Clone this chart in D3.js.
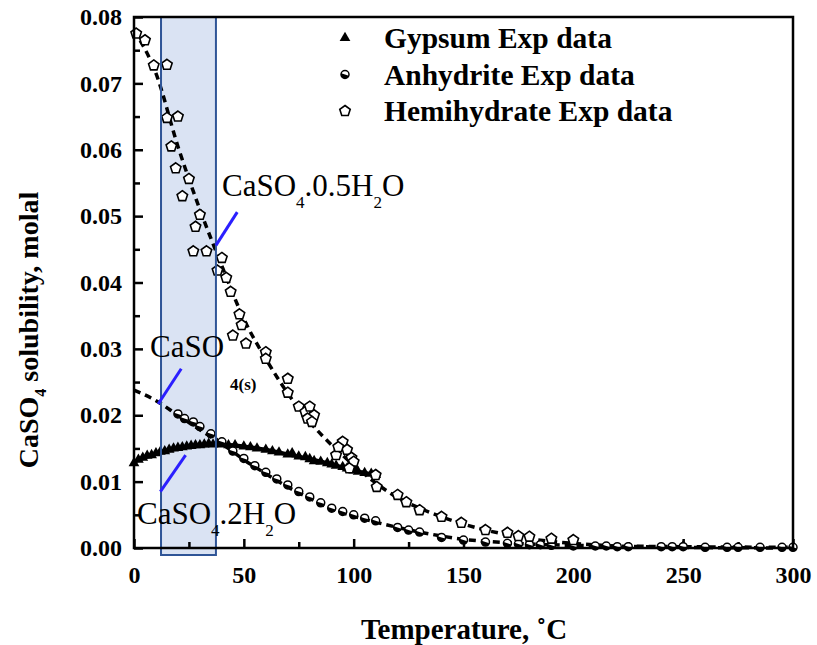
<!DOCTYPE html>
<html>
<head>
<meta charset="utf-8">
<script src="https://cdn.jsdelivr.net/npm/d3@7"></script>
<style>
  body { margin: 0; background: #fff; }
  text { font-family: "Liberation Serif", "DejaVu Serif", serif; }
</style>
</head>
<body>
<div id="chart"></div>
<script>
// curve fits [T, molal]
const hemiCurve = [[0,0.0780],[10,0.0715],[20,0.0605],[30,0.0510],[40,0.0425],[50,0.0345],[60,0.0285],[70,0.0233],[80,0.0190],[90,0.0155],[100,0.0125],[110,0.0098],[120,0.0076],[130,0.0060],[140,0.0047],[150,0.0036],[160,0.0027],[170,0.0020],[180,0.0014],[190,0.0010],[200,0.0007],[220,0.0003],[250,0.0001],[300,0.0000]]
const anhyCurve = [[0,0.0238],[10,0.0222],[20,0.0200],[30,0.0178],[40,0.0157],[50,0.0133],[60,0.0112],[70,0.0092],[80,0.0075],[90,0.0059],[100,0.0048],[110,0.0039],[120,0.0031],[130,0.0024],[140,0.0018],[150,0.0013],[160,0.0010],[170,0.0008],[180,0.0006],[200,0.0004],[250,0.0002],[300,0.0001]]
const gypCurve = [[0,0.0130],[10,0.0142],[20,0.0150],[30,0.0154],[40,0.0156],[50,0.0153],[60,0.0148],[70,0.0141],[80,0.0134],[90,0.0126],[100,0.0117],[110,0.0110]]

// experimental points
const gypsumT = [0,2,4,6,8,10,12,14,16,18,20,22,24,26,28,30,32,34,36,38,40,43,46,50,53,56,60,63,66,70,72,75,78,80,82,85,88,90,92,95,97,100,102,105,108,110,250]
const gypsumS = [0.0128,0.0133,0.0136,0.0139,0.0140,0.0143,0.0145,0.0146,0.0148,0.0150,0.0151,0.0152,0.0153,0.0154,0.0155,0.0155,0.0156,0.0157,0.0156,0.0157,0.0156,0.0155,0.0155,0.0153,0.0152,0.0150,0.0148,0.0146,0.0144,0.0141,0.0143,0.0138,0.0137,0.0134,0.0131,0.0130,0.0128,0.0126,0.0124,0.0122,0.0120,0.0117,0.0115,0.0113,0.0112,0.0110,0.0003]
const anhyT = [20,23,27,30,35,40,45,50,55,60,65,70,75,80,85,90,95,100,105,110,120,125,130,140,150,160,170,175,180,185,190,200,210,215,220,225,240,245,250,260,270,275,285,295,300]
const anhyS = [0.0202,0.0195,0.0190,0.0183,0.0172,0.0160,0.0146,0.0135,0.0124,0.0114,0.0104,0.0095,0.0085,0.0077,0.0068,0.0060,0.0055,0.0050,0.0045,0.0041,0.0031,0.0027,0.0024,0.0016,0.0012,0.0009,0.0007,0.0006,0.0005,0.0005,0.0004,0.0003,0.0003,0.0003,0.0002,0.0002,0.0002,0.0002,0.0002,0.0001,0.0001,0.0001,0.0001,0.0001,0.0001]
const hemiT = [1,5,9,15,15,20,17,19,25,22,30,28,27,33,40,38,42,44,48,49,45,51,60,60,70,70,75,78,80,82,79,81,92,95,97,93,99,100,98,110,110.5,120,124,130,140,149,160,170,175,180,190,200]
const hemiS = [0.0775,0.0765,0.0727,0.0728,0.0648,0.0650,0.0605,0.0572,0.0556,0.0530,0.0502,0.0484,0.0447,0.0447,0.0437,0.0418,0.0407,0.0386,0.0352,0.0336,0.0320,0.0308,0.0295,0.0285,0.0255,0.0234,0.0213,0.0205,0.0213,0.0200,0.0195,0.0190,0.0140,0.0160,0.0148,0.0152,0.0136,0.0130,0.0120,0.0110,0.0092,0.0080,0.0069,0.0057,0.0047,0.0038,0.0027,0.0023,0.0018,0.0017,0.0014,0.0012]

const xTicks = [0,50,100,150,200,250,300]
const yTicks = [0,0.01,0.02,0.03,0.04,0.05,0.06,0.07,0.08]
const legendNames = ['Gypsum Exp data','Anhydrite Exp data','Hemihydrate Exp data']
const bandRange = [12.3, 37.3]

const width = 817, height = 645
const mLeft = 134, mRight = 793, mTop = 17, mBottom = 548

const svg = d3.select('#chart').append('svg')
    .attr('width', width)
    .attr('height', height)

const x = d3.scaleLinear().domain([0, 300]).range([mLeft, mRight])
const y = d3.scaleLinear().domain([0, 0.08]).range([mBottom, mTop])

// highlighted band
svg.append('rect')
    .attr('x', x(bandRange[0]))
    .attr('y', mTop)
    .attr('width', x(bandRange[1]) - x(bandRange[0]))
    .attr('height', mBottom - mTop + 7)
    .attr('fill', '#dae3f3')

// axes with inward ticks
const xAxis = d3.axisBottom(x).tickValues(d3.range(0, 301, 25)).tickSize(-8)
    .tickFormat(d => xTicks.includes(d) ? d : '').tickPadding(18)
const gx = svg.append('g').attr('transform', `translate(0,${mBottom})`).call(xAxis)
gx.selectAll('.tick line').attr('y2', d => xTicks.includes(d) ? -9 : -6).attr('stroke-width', 2.5)
gx.selectAll('.tick text').attr('font-size', 24).attr('font-weight', 'bold')
    .attr('font-family', '"Liberation Serif", serif').attr('fill', '#000')
gx.select('.domain').remove()

const isMajorY = d => yTicks.some(v => Math.abs(v - d) < 1e-9)
const yAxis = d3.axisLeft(y).tickValues(d3.range(0, 0.0801, 0.005)).tickSize(-8)
    .tickFormat(d => isMajorY(d) ? d3.format('.2f')(d) : '').tickPadding(12)
const gy = svg.append('g').attr('transform', `translate(${mLeft},0)`).call(yAxis)
gy.selectAll('.tick line').attr('x2', d => isMajorY(d) ? 9 : 6).attr('stroke-width', 2.5)
gy.selectAll('.tick text').attr('font-size', 24).attr('font-weight', 'bold')
    .attr('font-family', '"Liberation Serif", serif').attr('fill', '#000')
gy.select('.domain').remove()

// curves
const line = d3.line().x(d => x(d[0])).y(d => y(d[1])).curve(d3.curveMonotoneX)
svg.append('path').datum(hemiCurve).attr('d', line)
    .attr('fill', 'none').attr('stroke', '#000').attr('stroke-width', 3.5).attr('stroke-dasharray', '7,5')
svg.append('path').datum(anhyCurve).attr('d', line)
    .attr('fill', 'none').attr('stroke', '#000').attr('stroke-width', 3.5).attr('stroke-dasharray', '7,5')
svg.append('path').datum(gypCurve).attr('d', line)
    .attr('fill', 'none').attr('stroke', '#000').attr('stroke-width', 4)

// marker shapes
const pentagon = r => d3.range(5).map(i => {
    const a = -Math.PI / 2 + i * 2 * Math.PI / 5
    return [r * Math.cos(a), r * Math.sin(a)]
})
const penPath = 'M' + pentagon(5.5).join('L') + 'Z'
const triPath = d3.symbol().type(d3.symbolTriangle).size(50)()

function drawGypsum(g) {
    g.append('path').attr('d', triPath).attr('fill', '#000')
}
function drawAnhy(g) {
    g.append('circle').attr('r', 4).attr('fill', '#fff').attr('stroke', '#000').attr('stroke-width', 1.5)
    g.append('path').attr('d', d3.arc()({innerRadius: 0, outerRadius: 4, startAngle: Math.PI * 0.6, endAngle: Math.PI * 1.6}))
        .attr('fill', '#000')
}
function drawHemi(g) {
    g.append('path').attr('d', penPath).attr('fill', '#fff').attr('stroke', '#000').attr('stroke-width', 1.6)
}

svg.append('g').selectAll('g').data(gypsumT.map((t, i) => [t, gypsumS[i]])).join('g')
    .attr('transform', d => `translate(${x(d[0])},${y(d[1])})`)
    .each(function() { drawGypsum(d3.select(this)) })
svg.append('g').selectAll('g').data(anhyT.map((t, i) => [t, anhyS[i]])).join('g')
    .attr('transform', d => `translate(${x(d[0])},${y(d[1])})`)
    .each(function() { drawAnhy(d3.select(this)) })
svg.append('g').selectAll('g').data(hemiT.map((t, i) => [t, hemiS[i]])).join('g')
    .attr('transform', d => `translate(${x(d[0])},${y(d[1])})`)
    .each(function() { drawHemi(d3.select(this)) })

// band border and frame on top
svg.append('rect')
    .attr('x', x(bandRange[0]))
    .attr('y', mTop)
    .attr('width', x(bandRange[1]) - x(bandRange[0]))
    .attr('height', mBottom - mTop + 7)
    .attr('fill', 'none')
    .attr('stroke', '#2f5597')
    .attr('stroke-width', 2)
svg.append('rect')
    .attr('x', mLeft).attr('y', mTop)
    .attr('width', mRight - mLeft).attr('height', mBottom - mTop)
    .attr('fill', 'none').attr('stroke', '#000').attr('stroke-width', 2.5)

// legend
const drawers = [drawGypsum, drawAnhy, drawHemi]
legendNames.forEach((name, i) => {
    const ly = 38 + i * 36.5
    const g = svg.append('g').attr('transform', `translate(345,${ly})`)
    drawers[i](g)
    svg.append('text').attr('x', 384).attr('y', ly + 10)
        .attr('font-size', 29.5).attr('font-weight', 'bold').text(name)
})

// annotations
const blue = '#2b1fff'
const annot = [
    {from: [bandRange[1], 0.0456], to: [47, 0.0506]},
    {from: [11, 0.0217], to: [21.5, 0.0270]},
    {from: [12, 0.0085], to: [23.5, 0.0140]}
]
annot.forEach(a => {
    svg.append('line')
        .attr('x1', x(a.from[0])).attr('y1', y(a.from[1]))
        .attr('x2', x(a.to[0])).attr('y2', y(a.to[1]))
        .attr('stroke', blue).attr('stroke-width', 3)
})

// chemical formula text with lowered subscripts
function formula(xp, yp, parts, size) {
    const t = svg.append('text').attr('x', xp).attr('y', yp).attr('font-size', size)
    const shift = size * 0.4
    let down = false
    parts.forEach(p => {
        const ts = t.append('tspan').text(p.s)
        if (p.sub) {
            ts.attr('dy', down ? 0 : shift).attr('font-size', size * 0.55)
            down = true
        } else {
            ts.attr('dy', down ? -shift : 0)
            down = false
        }
    })
    return t
}
formula(222, 196, [{s: 'CaSO'}, {s: '4', sub: true}, {s: '.0.5H'}, {s: '2', sub: true}, {s: 'O'}], 31)
formula(150, 357, [{s: 'CaSO'}], 31)
svg.append('text').attr('x', 230).attr('y', 390).attr('font-size', 17)
    .attr('font-weight', 'bold').text('4(s)')
formula(137, 524, [{s: 'CaSO'}, {s: '4', sub: true}, {s: '.2H'}, {s: '2', sub: true}, {s: 'O'}], 31)

// axis titles
svg.append('text').attr('x', 464).attr('y', 639)
    .attr('text-anchor', 'middle').attr('font-size', 29).attr('font-weight', 'bold')
    .text('Temperature, ˚C')
const yt = svg.append('text').attr('transform', 'translate(38,330) rotate(-90)')
    .attr('text-anchor', 'middle').attr('font-size', 28).attr('font-weight', 'bold')
yt.append('tspan').text('CaSO')
yt.append('tspan').attr('dy', 8).attr('font-size', 16).text('4')
yt.append('tspan').attr('dy', -8).text(' solubility, molal')
</script>
</body>
</html>
